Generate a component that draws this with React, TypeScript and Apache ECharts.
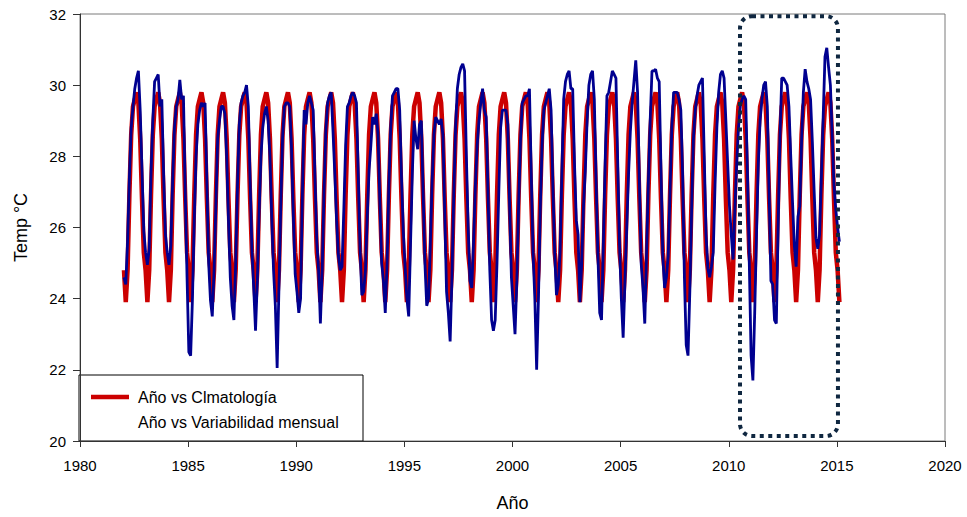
import React, { useEffect, useRef } from "react";
import * as echarts from "echarts";

// Monthly climatology (Jan..Dec), °C
const climatologia = [24.8, 23.9, 24.8, 26.9, 28.6, 29.4, 29.6, 29.8, 29.5, 28.5, 26.8, 25.3];

// Observed monthly temperature, one array per year (Jan..Dec), °C
const t1982 = [24.6, 24.4, 25.6, 27.4, 28.8, 29.4, 29.9, 30.2, 30.4, 29.3, 27.6, 25.9];
const t1983 = [25.3, 24.95, 25.4, 27.5, 29.0, 30.1, 30.2, 30.3, 29.4, 29.6, 27.5, 25.8];
const t1984 = [25.3, 24.95, 25.5, 27.3, 28.8, 29.4, 29.6, 30.15, 29.6, 29.7, 27.0, 24.6];
const t1985 = [22.5, 22.4, 24.0, 26.2, 28.0, 28.9, 29.3, 29.5, 29.4, 29.5, 27.3, 25.0];
const t1986 = [23.95, 23.5, 24.8, 26.6, 28.5, 29.0, 29.4, 29.4, 29.2, 28.0, 26.2, 24.6];
const t1987 = [23.8, 23.4, 25.0, 27.2, 28.9, 29.5, 29.7, 29.8, 30.0, 29.4, 27.3, 25.4];
const t1988 = [24.3, 23.1, 24.5, 26.4, 28.0, 28.8, 29.2, 29.4, 29.0, 28.0, 26.3, 24.8];
const t1989 = [23.8, 22.05, 24.3, 26.6, 28.5, 29.4, 29.5, 29.5, 29.4, 28.2, 26.3, 24.7];
const t1990 = [24.2, 23.6, 24.0, 26.9, 29.3, 28.9, 29.5, 29.7, 29.5, 29.3, 27.4, 25.6];
const t1991 = [24.8, 23.3, 24.8, 27.0, 28.7, 29.5, 29.7, 29.8, 28.7, 27.5, 26.2, 25.2];
const t1992 = [24.8, 24.9, 26.5, 28.3, 29.4, 29.5, 29.7, 29.8, 29.7, 29.5, 27.5, 25.4];
const t1993 = [24.1, 24.2, 24.8, 26.3, 27.6, 28.3, 29.1, 28.9, 29.2, 28.6, 26.7, 25.0];
const t1994 = [24.5, 23.6, 25.0, 27.2, 28.8, 29.7, 29.8, 29.9, 29.9, 29.3, 27.4, 25.9];
const t1995 = [24.9, 24.0, 23.5, 25.5, 27.5, 29.0, 28.5, 28.2, 28.9, 29.0, 27.0, 25.0];
const t1996 = [23.8, 24.0, 25.5, 27.3, 28.6, 29.1, 29.0, 28.9, 29.05, 28.6, 26.4, 24.2];
const t1997 = [23.6, 22.8, 24.6, 26.9, 28.8, 29.9, 30.3, 30.5, 30.6, 30.4, 28.0, 26.0];
const t1998 = [24.5, 24.3, 25.6, 27.2, 28.3, 29.0, 29.5, 29.9, 29.3, 29.1, 27.0, 24.8];
const t1999 = [23.4, 23.1, 23.4, 25.0, 27.0, 28.8, 29.3, 29.3, 29.3, 28.9, 26.6, 24.6];
const t2000 = [23.8, 23.0, 24.5, 26.6, 28.4, 29.5, 29.6, 29.7, 29.7, 29.9, 27.5, 25.3];
const t2001 = [24.0, 22.0, 24.0, 26.5, 28.3, 29.3, 29.5, 29.7, 29.9, 29.3, 27.2, 25.3];
const t2002 = [24.1, 24.4, 25.3, 27.5, 29.6, 30.1, 30.3, 30.4, 29.9, 29.9, 27.8, 26.2];
const t2003 = [25.8, 23.9, 25.0, 26.6, 27.6, 29.0, 30.0, 30.3, 30.4, 29.6, 27.3, 25.2];
const t2004 = [23.6, 23.4, 25.5, 27.8, 29.7, 29.8, 30.1, 30.4, 30.3, 30.2, 27.8, 25.5];
const t2005 = [24.0, 22.9, 24.5, 26.0, 27.5, 28.7, 29.5, 30.1, 30.7, 29.8, 27.3, 25.0];
const t2006 = [24.3, 23.3, 25.3, 27.3, 29.0, 30.4, 30.4, 30.45, 30.2, 30.1, 27.6, 25.2];
const t2007 = [24.3, 24.6, 25.2, 27.0, 28.8, 29.8, 29.8, 29.8, 29.6, 29.3, 27.5, 24.6];
const t2008 = [22.7, 22.4, 24.2, 26.5, 28.5, 29.3, 29.7, 30.0, 30.1, 30.2, 28.0, 25.8];
const t2009 = [24.85, 24.6, 24.9, 25.3, 27.2, 28.8, 29.8, 30.3, 30.4, 30.2, 29.0, 27.8];
const t2010 = [26.6, 25.8, 25.1, 26.5, 27.8, 28.8, 29.4, 29.6, 29.7, 29.6, 27.5, 25.0];
const t2011 = [22.4, 21.7, 23.6, 25.8, 27.8, 29.0, 29.6, 30.0, 30.1, 29.4, 27.0, 24.5];
const t2012 = [24.4, 23.4, 23.3, 26.0, 28.5, 30.2, 30.2, 30.1, 30.0, 29.4, 28.0, 26.7];
const t2013 = [25.5, 24.9, 26.3, 26.6, 28.4, 29.8, 30.45, 30.1, 29.9, 29.6, 28.4, 27.0];
const t2014 = [25.7, 25.4, 25.8, 27.4, 29.1, 30.8, 31.05, 30.5, 30.0, 28.6, 27.2, 26.5];
const t2015 = [26.0, 25.6];

const FIRST_YEAR = 1982;
const variabilidad = [
  t1982, t1983, t1984, t1985, t1986, t1987, t1988, t1989, t1990, t1991, t1992, t1993,
  t1994, t1995, t1996, t1997, t1998, t1999, t2000, t2001, t2002, t2003, t2004, t2005,
  t2006, t2007, t2008, t2009, t2010, t2011, t2012, t2013, t2014, t2015,
];

// Axis ranges and tick spacing
const X_MIN = 1980;
const X_MAX = 2020;
const X_STEP = 5;
const Y_MIN = 20;
const Y_MAX = 32;
const Y_STEP = 2;

// Highlighted period (years) drawn as a dotted frame
const destacado = { desde: 2010.52, hasta: 2015.05, tMin: 20.14, tMax: 31.94 };

const FONT = "'Liberation Sans', Arial, Helvetica, sans-serif";

function buildSeries() {
  const obs: [number, number][] = [];
  const clim: [number, number][] = [];
  variabilidad.forEach((vals, yi) => {
    vals.forEach((v, m) => {
      const x = FIRST_YEAR + yi + (m + 0.4) / 12;
      obs.push([x, v]);
      clim.push([x, climatologia[m]]);
    });
  });
  return { obs, clim };
}

export default function App() {
  const ref = useRef<HTMLDivElement>(null);

  useEffect(() => {
    if (!ref.current) return;
    const chart = echarts.init(ref.current, undefined, { renderer: "svg" });
    const { obs, clim } = buildSeries();

    chart.setOption({
      animation: false,
      backgroundColor: "#ffffff",
      textStyle: { fontFamily: FONT },
      grid: {
        left: 80,
        right: 22,
        top: 14,
        bottom: 71,
        show: true,
        borderColor: "#7a7a7a",
        borderWidth: 1,
        backgroundColor: "transparent",
      },
      xAxis: {
        type: "value",
        min: X_MIN,
        max: X_MAX,
        interval: X_STEP,
        name: "Año",
        nameLocation: "middle",
        nameGap: 53,
        nameTextStyle: { fontSize: 18, color: "#000", fontFamily: FONT },
        axisLine: { show: true, lineStyle: { color: "#333", width: 1 } },
        axisTick: { show: true, inside: false, length: 6, lineStyle: { color: "#333" } },
        axisLabel: {
          fontSize: 15,
          color: "#000",
          margin: 17,
          fontFamily: FONT,
          formatter: (v: number) => String(v),
        },
        splitLine: { show: false },
      },
      yAxis: {
        type: "value",
        min: Y_MIN,
        max: Y_MAX,
        interval: Y_STEP,
        name: "Temp °C",
        nameLocation: "middle",
        nameGap: 50,
        nameRotate: 90,
        nameTextStyle: { fontSize: 18, color: "#000", fontFamily: FONT },
        axisLine: { show: true, lineStyle: { color: "#333", width: 1 } },
        axisTick: { show: true, inside: false, length: 7, lineStyle: { color: "#333" } },
        axisLabel: { fontSize: 15, color: "#000", margin: 14, fontFamily: FONT },
        splitLine: { show: false },
      },
      series: [
        {
          name: "Año vs Clmatología",
          type: "line",
          data: clim,
          showSymbol: false,
          symbol: "none",
          lineStyle: { color: "#cc0000", width: 4.5 },
          z: 2,
        },
        {
          name: "Año vs Variabilidad mensual",
          type: "line",
          data: obs,
          showSymbol: false,
          symbol: "none",
          lineStyle: { color: "#000090", width: 2.8 },
          z: 3,
        },
      ],
    });

    const [x0, y0] = chart.convertToPixel({ gridIndex: 0 }, [destacado.desde, destacado.tMax]);
    const [x1, y1] = chart.convertToPixel({ gridIndex: 0 }, [destacado.hasta, destacado.tMin]);
    const [gx, gy] = chart.convertToPixel({ gridIndex: 0 }, [X_MIN, Y_MIN]);

    chart.setOption({
      graphic: [
        {
          type: "rect",
          z: 100,
          shape: { x: x0, y: y0, width: x1 - x0, height: y1 - y0, r: 12 },
          style: { fill: "none", stroke: "#0f2740", lineWidth: 4, lineDash: [4, 4.5] },
        },
        {
          type: "group",
          z: 100,
          x: gx - 1,
          y: gy - 66,
          children: [
            {
              type: "rect",
              shape: { x: 0, y: 0, width: 284, height: 66 },
              style: { fill: "#ffffff", stroke: "#000", lineWidth: 1 },
            },
            {
              type: "line",
              shape: { x1: 12, y1: 22, x2: 50, y2: 22 },
              style: { stroke: "#cc0000", lineWidth: 4.5 },
            },
            {
              type: "text",
              x: 59,
              y: 22,
              style: {
                text: "Año vs Clmatología",
                fontSize: 16,
                fontFamily: FONT,
                fill: "#000",
                verticalAlign: "middle",
              },
            },
            {
              type: "text",
              x: 59,
              y: 47,
              style: {
                text: "Año vs Variabilidad mensual",
                fontSize: 16,
                fontFamily: FONT,
                fill: "#000",
                verticalAlign: "middle",
              },
            },
          ],
        },
      ],
    });

    return () => chart.dispose();
  }, []);

  return (
    <div
      ref={ref}
      style={{ position: "fixed", left: 0, top: 0, width: 967, height: 517 }}
    />
  );
}
